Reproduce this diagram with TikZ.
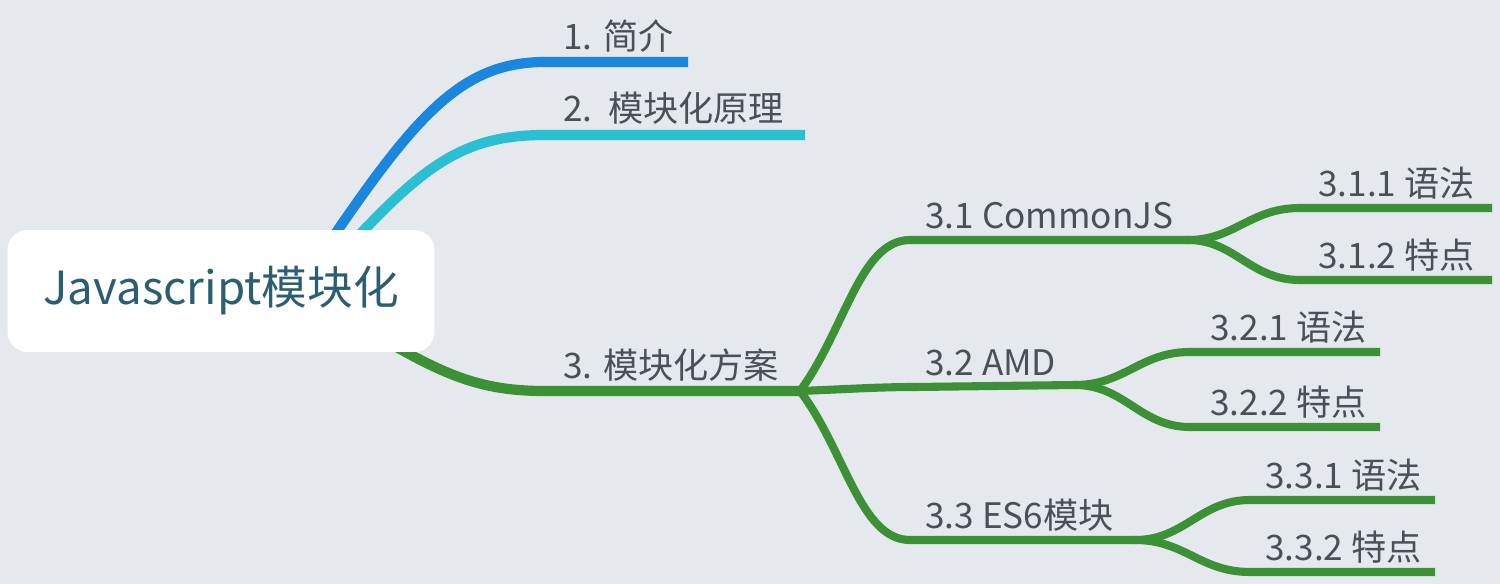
\documentclass[tikz,border=0pt]{standalone}
\usepackage{fontspec}
\setmainfont{Noto Sans CJK SC}
\usepackage{tikz}
\definecolor{bgcol}{HTML}{E5E9ED}
\definecolor{blue}{HTML}{1A86DE}
\definecolor{cyan}{HTML}{2BBFD3}
\definecolor{green}{HTML}{3C9136}
\definecolor{labelcol}{HTML}{4A5058}
\definecolor{rootcol}{HTML}{2B5E70}
\usetikzlibrary{backgrounds}

\begin{document}
\begin{tikzpicture}[x=0.02cm,y=-0.02cm,line cap=round,line join=round,
	lbl/.style={anchor=base west,inner sep=0pt,text=labelcol,font=\fontsize{20}{23}\selectfont},
	main/.style={line width=5.8pt},
	sub/.style={line width=4.6pt,green}]
	\useasboundingbox (0,0) rectangle (1500,584);
	\node[fill=white,rounded corners=0.4cm,minimum width=8.54cm,minimum height=2.44cm,
		text=rootcol,font=\fontsize{26}{30}\selectfont] (root) at (221,291) {Javascript模块化};
	\coordinate (k1) at (545,62);   \coordinate (e1) at (688,62);
	\coordinate (k2) at (545,135);  \coordinate (e2) at (805,135);
	\coordinate (k3) at (545,391);  \coordinate (e3) at (800,391);
	\coordinate (k31) at (910,240); \coordinate (e31) at (1188,240);
	\coordinate (k32) at (915,387); \coordinate (e32) at (1075,385);
	\coordinate (k33) at (910,540); \coordinate (e33) at (1135,540);
	\coordinate (k311) at (1300,208); \coordinate (e311) at (1492,208);
	\coordinate (k312) at (1300,280); \coordinate (e312) at (1492,280);
	\coordinate (k321) at (1190,352); \coordinate (e321) at (1380,352);
	\coordinate (k322) at (1190,427); \coordinate (e322) at (1380,427);
	\coordinate (k331) at (1250,500); \coordinate (e331) at (1435,500);
	\coordinate (k332) at (1250,572); \coordinate (e332) at (1435,572);
	\begin{pgfonlayer}{background}
		\fill[bgcol] (0,0) rectangle (1500,584);
		\draw[main,blue] ([xshift=6.55cm,yshift=-0.1cm]root.north west) .. controls (420,110) and (465,62) .. (k1) -- (e1);
		\draw[main,cyan] ([xshift=7.05cm,yshift=-0.1cm]root.north west) .. controls (430,160) and (470,135) .. (k2) -- (e2);
		\draw[main,green] ([xshift=7.8cm,yshift=0.1cm]root.south west) .. controls (455,380) and (490,391) .. (k3) -- (e3);
		\draw[sub] (e3) .. controls (845,330) and (860,240) .. (k31) -- (e31);
		\draw[sub] (e3) .. controls (850,389) and (880,387) .. (k32) -- (e32);
		\draw[sub] (e3) .. controls (845,450) and (860,540) .. (k33) -- (e33);
		\draw[sub] (e31) .. controls (1235,240) and (1250,208) .. (k311) -- (e311);
		\draw[sub] (e31) .. controls (1235,240) and (1250,280) .. (k312) -- (e312);
		\draw[sub] (e32) .. controls (1125,385) and (1140,352) .. (k321) -- (e321);
		\draw[sub] (e32) .. controls (1125,385) and (1140,427) .. (k322) -- (e322);
		\draw[sub] (e33) .. controls (1185,540) and (1200,500) .. (k331) -- (e331);
		\draw[sub] (e33) .. controls (1185,540) and (1200,572) .. (k332) -- (e332);
	\end{pgfonlayer}
	\node[lbl] (n1) at (563,50) {1. 简介};
	\node[lbl] (n2) at (563,122) {2.\ \ 模块化原理};
	\node[lbl] (n3) at (563,378) {3. 模块化方案};
	\node[lbl] (n31) at (925,229) {3.1 CommonJS};
	\node[lbl] (n32) at (925,375) {3.2 AMD};
	\node[lbl] (n33) at (925,528) {3.3 ES6模块};
	\node[lbl] (n311) at (1318,196) {3.1.1 语法};
	\node[lbl] (n312) at (1318,268) {3.1.2 特点};
	\node[lbl] (n321) at (1210,340) {3.2.1 语法};
	\node[lbl] (n322) at (1210,415) {3.2.2 特点};
	\node[lbl] (n331) at (1265,488) {3.3.1 语法};
	\node[lbl] (n332) at (1265,560) {3.3.2 特点};
\end{tikzpicture}
\end{document}
